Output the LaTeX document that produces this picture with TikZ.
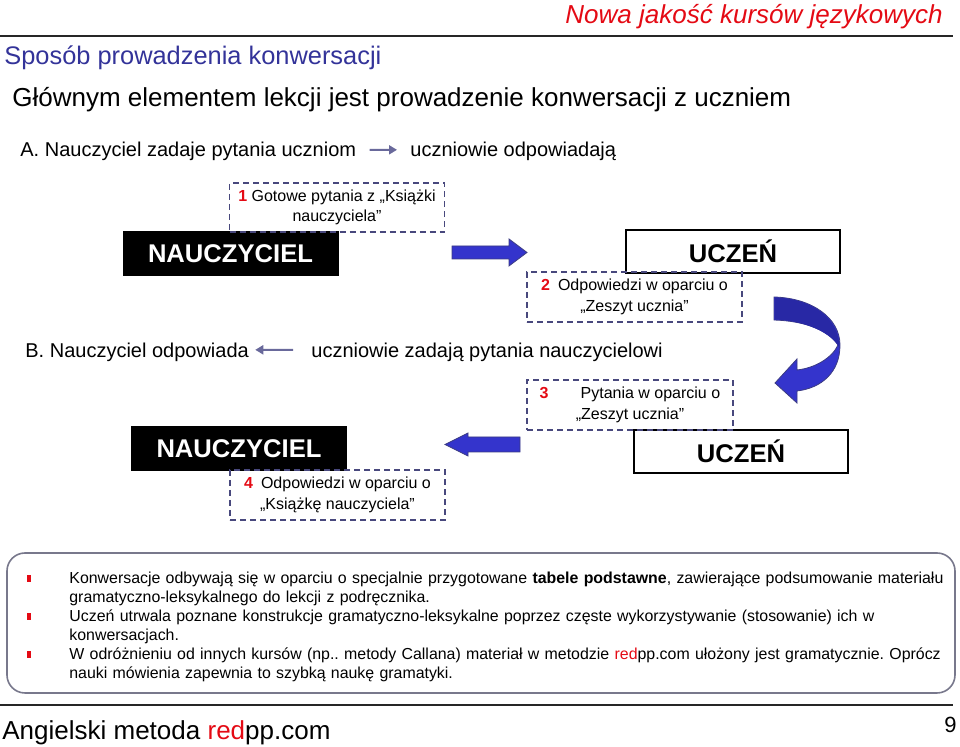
\documentclass[tikz,border=0pt]{standalone}
\usepackage{fontspec}
\setmainfont{Liberation Sans}
\usepackage{xcolor}
\usetikzlibrary{arrows.meta, positioning}
\frenchspacing
\definecolor{redpp}{RGB}{228,10,20}
\definecolor{titleblue}{RGB}{51,51,153}
\definecolor{arrowblue}{RGB}{52,52,204}
\definecolor{arrowdark}{RGB}{40,40,165}
\definecolor{arrowedge}{RGB}{60,60,130}
\definecolor{dashcol}{RGB}{72,72,125}
\definecolor{linkcol}{RGB}{105,105,155}
\definecolor{panelcol}{RGB}{120,120,140}
\newcommand{\nr}[1]{\textcolor{redpp}{\textbf{#1}}}
\newcommand{\bul}{\leavevmode\llap{\textcolor{redpp}{\rule[1pt]{2.2pt}{3.4pt}}\hspace{19pt}}}
\tikzset{
  txt/.style   = {inner sep=0pt, anchor=base west},
  big/.style   = {font=\fontsize{13}{15.6}\selectfont},
  mid/.style   = {font=\fontsize{10}{12}\selectfont},
  tchr/.style  = {fill=black, text=white, inner sep=0pt,
                  font=\fontsize{12.8}{15}\selectfont\bfseries,
                  minimum width=108pt, minimum height=22.5pt},
  stdt/.style  = {draw=black, line width=0.6pt, fill=white, inner sep=0pt,
                  font=\fontsize{12.8}{15}\selectfont\bfseries,
                  minimum width=107pt, minimum height=21.5pt},
  note/.style  = {draw=dashcol, dash pattern=on 3pt off 2pt, line width=0.7pt,
                  align=center, inner sep=0pt, font=\fontsize{8}{10.2}\selectfont,
                  minimum width=107.5pt, minimum height=25pt},
  thin flow/.style = {-{Triangle[length=4pt, width=4.5pt]}, line width=1pt, linkcol},
  block/.style = {fill=arrowblue, draw=arrowedge, line width=0.4pt},
  rule/.style  = {line width=1pt, black!85},
}

\begin{document}
\begin{tikzpicture}[x=0.5pt, y=-0.5pt]
    \useasboundingbox (0,0) rectangle (960,747);

    % header
    \node[txt, anchor=base east, big, text=redpp] (brand) at (943,24)
      {\itshape Nowa jakość kursów językowych};
    \draw[rule] (0,36) -- (953,36);
    \node[txt, font=\fontsize{12.7}{15}\selectfont, text=titleblue] (head) at (4,65)
      {Sposób prowadzenia konwersacji};
    \node[txt, big] (lead) at (12,107)
      {Głównym elementem lekcji jest prowadzenie konwersacji z uczniem};

    % part A
    \node[txt, mid] (qA) at (20,157) {A. Nauczyciel zadaje pytania uczniom};
    \node[txt, mid] (aA) at (410,157) {uczniowie odpowiadają};
    \draw[thin flow] ([xshift=6.5pt, yshift=1pt]qA.east) -- ([xshift=-6.5pt, yshift=1pt]aA.west);

    \node[tchr] (tch1) at (230.5,253.5) {NAUCZYCIEL};
    \node[stdt] (std1) at (733,251.5) {UCZEŃ};
    \node[note, minimum height=24.5pt] (n1) at (337,207.5)
      {\nr{1} Gotowe pytania z „Książki\\nauczyciela”};
    \node[note] (n2) at (634.5,297)
      {\nr{2}\enspace Odpowiedzi w oparciu o\\„Zeszyt ucznia”};
    \fill[block] (452,246) -- (509,246) -- (509,239) -- (527,252.5)
      -- (509,266) -- (509,259) -- (452,259) -- cycle;

    % turn
    \fill[block] (774,297) .. controls (812,298) and (840,318) .. (840,345)
      .. controls (840,372) and (822,388) .. (797,391)
      -- (797,403) -- (775,383) -- (797,359) -- (797,370)
      .. controls (815,368) and (832,358) .. (838,345)
      .. controls (828,330) and (805,321) .. (774,320) -- cycle;
    \fill[arrowdark] (774.5,297.5) .. controls (812,298.5) and (839.5,318) .. (839.5,348)
      .. controls (832,333) and (805,320.5) .. (774.5,319.5) -- cycle;

    % part B
    \node[txt, mid] (tB) at (25,358) {B. Nauczyciel odpowiada};
    \node[txt, mid] (qB) at (311,358) {uczniowie zadają pytania nauczycielowi};
    \draw[thin flow] ([xshift=-9pt, yshift=1.5pt]qB.west) -- ([xshift=3pt, yshift=1.5pt]tB.east);

    \node[tchr] (tch2) at (239,448.5) {NAUCZYCIEL};
    \node[stdt] (std2) at (741,451.5) {UCZEŃ};
    \node[note, minimum width=103pt] (n3) at (630,405)
      {\nr{3}\qquad Pytania w oparciu o\\„Zeszyt ucznia”};
    \node[note] (n4) at (337.5,495)
      {\nr{4}\enspace Odpowiedzi w oparciu o\\„Książkę nauczyciela”};
    \fill[block] (520,437) -- (468,437) -- (468,433) -- (445,444.5)
      -- (468,456) -- (468,452) -- (520,452) -- cycle;

    % remarks
    \draw[panelcol, line width=0.8pt, rounded corners=9pt] (7,553) rectangle (955,693);
    \node[txt, anchor=north west, text width=470pt, align=left,
          font=\fontsize{7.95}{9.5}\selectfont] (notes) at (69,572)
      {\bul Konwersacje odbywają się w oparciu o specjalnie przygotowane \textbf{tabele podstawne}, zawierające podsumowanie materiału\\
       gramatyczno-leksykalnego do lekcji z podręcznika.\\
       \bul Uczeń utrwala poznane konstrukcje gramatyczno-leksykalne poprzez częste wykorzystywanie (stosowanie) ich w\\
       konwersacjach.\\
       \bul W odróżnieniu od innych kursów (np.. metody Callana) materiał w metodzie \textcolor{redpp}{red}pp.com ułożony jest gramatycznie. Oprócz\\
       nauki mówienia zapewnia to szybką naukę gramatyki.};

    % footer
    \draw[rule] (0,705) -- (953,705);
    \node[txt, big] (foot) at (2,740) {Angielski metoda \textcolor{redpp}{red}pp.com};
    \node[txt, anchor=base east, font=\fontsize{11}{13}\selectfont] (page) at (957,733) {9};
  \end{tikzpicture}
\end{document}
